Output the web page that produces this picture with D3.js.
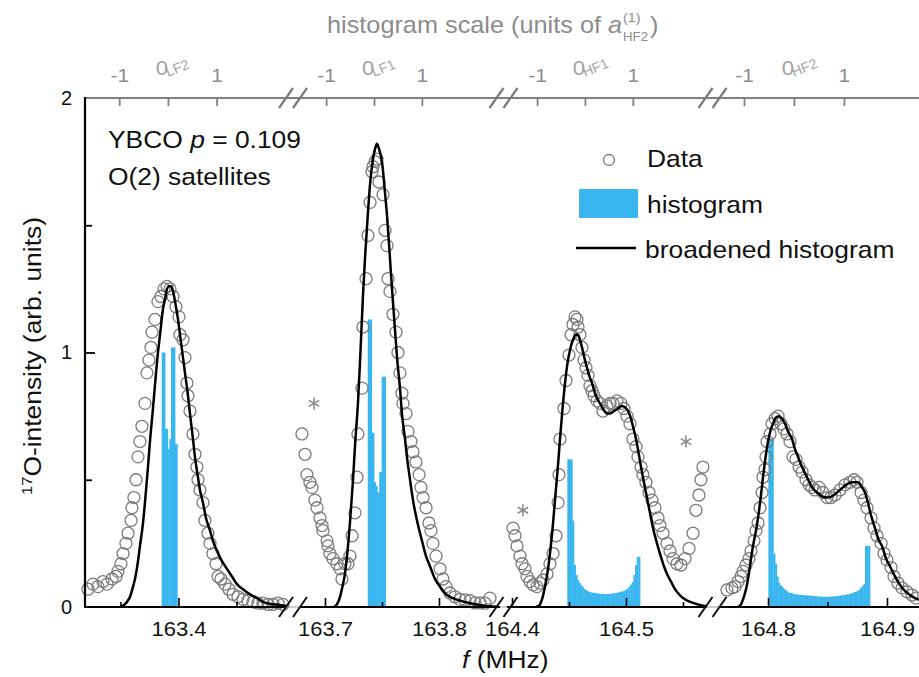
<!DOCTYPE html>
<html><head><meta charset="utf-8">
<script src="https://cdn.jsdelivr.net/npm/d3@7"></script>
<style>
body{margin:0;background:#fff}
svg{display:block}
text{font-family:"Liberation Sans",Arial,Helvetica,sans-serif}
</style></head>
<body><svg id="c" width="919" height="677"></svg>
<script>
// ---------------- DATA (frequency in MHz, intensity in arb. units) ----------------
const dataLF2 = [[163.3220,0.07],[163.3263,0.09],[163.3306,0.08],[163.3349,0.10],[163.3384,0.09],[163.3427,0.11],[163.3461,0.12],[163.3478,0.14],[163.3504,0.17],[163.3522,0.21],[163.3547,0.25],[163.3565,0.29],[163.3591,0.34],[163.3599,0.39],[163.3616,0.43],[163.3634,0.50],[163.3651,0.59],[163.3668,0.65],[163.3685,0.71],[163.3711,0.80],[163.3728,0.92],[163.3746,0.97],[163.3763,1.02],[163.3772,1.08],[163.3797,1.13],[163.3823,1.20],[163.3849,1.22],[163.3875,1.25],[163.3901,1.26],[163.3927,1.25],[163.3953,1.22],[163.3978,1.18],[163.4004,1.14],[163.4013,1.07],[163.4039,1.05],[163.4056,0.98],[163.4073,0.88],[163.4082,0.83],[163.4099,0.77],[163.4125,0.68],[163.4142,0.60],[163.4159,0.55],[163.4168,0.50],[163.4185,0.46],[163.4211,0.41],[163.4228,0.34],[163.4254,0.29],[163.4272,0.25],[163.4297,0.21],[163.4323,0.17],[163.4341,0.12],[163.4366,0.11],[163.4401,0.09],[163.4435,0.07],[163.4470,0.05],[163.4513,0.04],[163.4556,0.03],[163.4599,0.025],[163.4642,0.02],[163.4685,0.015],[163.4728,0.015],[163.4772,0.01],[163.4815,0.01],[163.4858,0.015],[163.4901,0.01]];
const curveLF2 = [[163.3504,0],[163.3522,0.005],[163.3556,0.02],[163.3582,0.04],[163.3608,0.08],[163.3625,0.11],[163.3651,0.18],[163.3668,0.24],[163.3694,0.33],[163.3711,0.41],[163.3737,0.55],[163.3754,0.65],[163.3780,0.78],[163.3797,0.87],[163.3823,1.00],[163.3841,1.07],[163.3866,1.17],[163.3884,1.21],[163.3901,1.25],[163.3918,1.26],[163.3935,1.26],[163.3953,1.24],[163.3978,1.18],[163.3996,1.13],[163.4013,1.07],[163.4039,0.98],[163.4056,0.92],[163.4082,0.83],[163.4099,0.76],[163.4125,0.66],[163.4142,0.59],[163.4168,0.51],[163.4185,0.46],[163.4211,0.41],[163.4237,0.35],[163.4272,0.30],[163.4297,0.26],[163.4332,0.22],[163.4375,0.18],[163.4418,0.15],[163.4461,0.12],[163.4504,0.09],[163.4556,0.07],[163.4616,0.05],[163.4677,0.035],[163.4728,0.02],[163.4789,0.012],[163.4875,0.008],[163.4935,0.004]];
const histLF2Edges = [163.3855,163.3884,163.3907,163.3921,163.3935,163.3970,163.3990];
const histLF2Heights = [1.00,0.70,0.62,0.66,1.02,0.64];

const dataLF1 = [[163.6798,0.68],[163.6825,0.60],[163.6842,0.52],[163.6868,0.49],[163.6886,0.47],[163.6912,0.42],[163.6930,0.39],[163.6956,0.35],[163.6974,0.32],[163.6982,0.30],[163.7018,0.26],[163.7026,0.24],[163.7044,0.21],[163.7070,0.19],[163.7105,0.17],[163.7132,0.15],[163.7149,0.11],[163.7175,0.17],[163.7202,0.17],[163.7219,0.20],[163.7237,0.28],[163.7263,0.37],[163.7281,0.51],[163.7289,0.68],[163.7325,0.86],[163.7333,1.10],[163.7360,1.29],[163.7377,1.46],[163.7395,1.59],[163.7412,1.71],[163.7421,1.73],[163.7439,1.75],[163.7456,1.76],[163.7474,1.67],[163.7509,1.62],[163.7526,1.48],[163.7544,1.42],[163.7553,1.29],[163.7570,1.24],[163.7596,1.15],[163.7623,1.08],[163.7640,1.00],[163.7658,0.92],[163.7675,0.84],[163.7684,0.80],[163.7711,0.76],[163.7728,0.69],[163.7754,0.65],[163.7772,0.61],[163.7798,0.57],[163.7825,0.52],[163.7842,0.47],[163.7860,0.43],[163.7886,0.39],[163.7912,0.33],[163.7930,0.30],[163.7947,0.25],[163.7974,0.20],[163.8009,0.15],[163.8035,0.11],[163.8061,0.08],[163.8096,0.055],[163.8140,0.04],[163.8184,0.03],[163.8228,0.028],[163.8272,0.025],[163.8316,0.016],[163.8360,0.016],[163.8404,0.015],[163.8447,0.035]];
const curveLF1 = [[163.7079,0],[163.7105,0.01],[163.7132,0.04],[163.7158,0.09],[163.7175,0.13],[163.7202,0.24],[163.7219,0.33],[163.7246,0.50],[163.7263,0.63],[163.7289,0.80],[163.7307,0.96],[163.7333,1.22],[163.7351,1.37],[163.7377,1.55],[163.7395,1.66],[163.7421,1.76],[163.7439,1.80],[163.7456,1.82],[163.7474,1.80],[163.7500,1.75],[163.7526,1.63],[163.7544,1.54],[163.7570,1.37],[163.7588,1.25],[163.7614,1.09],[163.7632,0.98],[163.7658,0.86],[163.7675,0.76],[163.7702,0.66],[163.7719,0.59],[163.7746,0.50],[163.7772,0.42],[163.7807,0.34],[163.7851,0.26],[163.7886,0.20],[163.7921,0.16],[163.7965,0.11],[163.8009,0.08],[163.8061,0.05],[163.8123,0.035],[163.8184,0.025],[163.8272,0.015],[163.8360,0.008],[163.8447,0.003],[163.8509,0.001]];
const histLF1Edges = [163.7375,163.7410,163.7430,163.7445,163.7459,163.7476,163.7497,163.7532];
const histLF1Heights = [1.13,0.685,0.49,0.475,0.45,0.53,0.905];

const dataHF1 = [[164.4009,0.31],[164.4026,0.28],[164.4044,0.24],[164.4070,0.20],[164.4088,0.17],[164.4114,0.15],[164.4132,0.12],[164.4158,0.10],[164.4184,0.087],[164.4219,0.08],[164.4246,0.094],[164.4272,0.106],[164.4307,0.13],[164.4333,0.17],[164.4360,0.21],[164.4386,0.28],[164.4404,0.41],[164.4412,0.52],[164.4421,0.66],[164.4456,0.78],[164.4474,0.89],[164.4500,0.99],[164.4518,1.07],[164.4535,1.11],[164.4553,1.14],[164.4570,1.13],[164.4579,1.10],[164.4596,1.07],[164.4614,1.02],[164.4632,0.97],[164.4649,0.94],[164.4667,0.91],[164.4684,0.87],[164.4702,0.85],[164.4719,0.83],[164.4746,0.81],[164.4772,0.80],[164.4798,0.77],[164.4833,0.79],[164.4860,0.80],[164.4886,0.80],[164.4921,0.81],[164.4956,0.80],[164.4982,0.78],[164.5009,0.75],[164.5035,0.72],[164.5061,0.66],[164.5088,0.63],[164.5105,0.59],[164.5132,0.55],[164.5149,0.52],[164.5175,0.49],[164.5202,0.45],[164.5228,0.42],[164.5254,0.39],[164.5281,0.35],[164.5298,0.32],[164.5325,0.29],[164.5360,0.25],[164.5386,0.22],[164.5412,0.19],[164.5447,0.17],[164.5482,0.165],[164.5518,0.19],[164.5553,0.23],[164.5588,0.29],[164.5614,0.38],[164.5640,0.44],[164.5658,0.50],[164.5675,0.55]];
const curveHF1 = [[164.4211,0],[164.4246,0.01],[164.4263,0.03],[164.4289,0.08],[164.4316,0.15],[164.4333,0.21],[164.4360,0.33],[164.4377,0.42],[164.4404,0.56],[164.4421,0.66],[164.4447,0.80],[164.4465,0.88],[164.4491,0.97],[164.4509,1.01],[164.4535,1.05],[164.4561,1.07],[164.4579,1.07],[164.4596,1.05],[164.4614,1.02],[164.4640,0.97],[164.4658,0.94],[164.4684,0.90],[164.4702,0.88],[164.4728,0.84],[164.4746,0.82],[164.4772,0.80],[164.4798,0.78],[164.4833,0.76],[164.4860,0.76],[164.4895,0.77],[164.4930,0.78],[164.4965,0.79],[164.4991,0.785],[164.5018,0.77],[164.5044,0.74],[164.5061,0.71],[164.5088,0.66],[164.5105,0.62],[164.5132,0.55],[164.5149,0.51],[164.5175,0.45],[164.5193,0.41],[164.5219,0.35],[164.5237,0.31],[164.5272,0.25],[164.5298,0.21],[164.5333,0.16],[164.5360,0.13],[164.5395,0.10],[164.5430,0.07],[164.5465,0.05],[164.5500,0.035],[164.5544,0.024],[164.5588,0.016],[164.5649,0.008],[164.5711,0.002]];
const histHF1Start = 164.4485, histHF1BinWidth = 0.00145;
const histHF1Heights = [0.58,0.58,0.58,0.34,0.165,0.126,0.106,0.094,0.085,0.078,0.07,0.066,0.062,0.059,0.057,0.056,0.055,0.054,0.053,0.052,0.052,0.051,0.051,0.051,0.051,0.052,0.052,0.053,0.054,0.055,0.057,0.058,0.06,0.062,0.064,0.068,0.072,0.08,0.088,0.098,0.126,0.165,0.197,0.197];

const dataHF2 = [[164.7655,0.067],[164.7697,0.075],[164.7723,0.08],[164.7748,0.10],[164.7773,0.12],[164.7790,0.14],[164.7815,0.165],[164.7840,0.19],[164.7857,0.22],[164.7882,0.26],[164.7899,0.30],[164.7916,0.33],[164.7933,0.39],[164.7950,0.45],[164.7958,0.51],[164.7975,0.54],[164.7983,0.59],[164.7992,0.65],[164.8017,0.68],[164.8034,0.72],[164.8059,0.74],[164.8084,0.75],[164.8109,0.72],[164.8134,0.70],[164.8160,0.68],[164.8185,0.65],[164.8210,0.59],[164.8235,0.58],[164.8261,0.55],[164.8286,0.53],[164.8319,0.50],[164.8345,0.48],[164.8370,0.47],[164.8395,0.46],[164.8429,0.47],[164.8462,0.45],[164.8496,0.43],[164.8529,0.43],[164.8563,0.44],[164.8605,0.46],[164.8647,0.48],[164.8689,0.49],[164.8723,0.50],[164.8748,0.49],[164.8782,0.45],[164.8807,0.42],[164.8832,0.39],[164.8866,0.35],[164.8891,0.31],[164.8916,0.28],[164.8950,0.25],[164.8975,0.21],[164.9000,0.185],[164.9034,0.155],[164.9059,0.12],[164.9092,0.094],[164.9126,0.075],[164.9168,0.06],[164.9210,0.047],[164.9244,0.035]];
const curveHF2 = [[164.7748,0],[164.7773,0.01],[164.7790,0.03],[164.7815,0.07],[164.7832,0.11],[164.7857,0.19],[164.7874,0.24],[164.7899,0.30],[164.7916,0.35],[164.7941,0.44],[164.7958,0.51],[164.7983,0.60],[164.8000,0.65],[164.8025,0.70],[164.8042,0.72],[164.8067,0.745],[164.8092,0.75],[164.8118,0.74],[164.8143,0.72],[164.8168,0.69],[164.8202,0.66],[164.8227,0.62],[164.8252,0.59],[164.8286,0.55],[164.8328,0.51],[164.8370,0.47],[164.8412,0.45],[164.8454,0.435],[164.8496,0.43],[164.8538,0.435],[164.8580,0.45],[164.8630,0.47],[164.8672,0.485],[164.8714,0.49],[164.8756,0.49],[164.8790,0.47],[164.8815,0.45],[164.8840,0.41],[164.8866,0.36],[164.8899,0.31],[164.8933,0.26],[164.8958,0.24],[164.8992,0.19],[164.9025,0.16],[164.9067,0.12],[164.9109,0.087],[164.9151,0.063],[164.9193,0.047],[164.9235,0.035],[164.9269,0.028]];
const histHF2Start = 164.8003, histHF2BinWidth = 0.0014;
const histHF2Heights = [0.66,0.66,0.66,0.21,0.17,0.12,0.094,0.085,0.078,0.07,0.066,0.06,0.056,0.055,0.054,0.05,0.05,0.049,0.048,0.048,0.047,0.046,0.046,0.045,0.045,0.044,0.043,0.043,0.042,0.042,0.041,0.041,0.04,0.04,0.04,0.04,0.04,0.041,0.041,0.042,0.042,0.043,0.044,0.045,0.046,0.047,0.048,0.05,0.051,0.053,0.055,0.058,0.06,0.063,0.067,0.075,0.082,0.09,0.24,0.24,0.24];

// axis ticks / labels
const majorTicks = [[163.4],[163.7,163.8],[164.4,164.5],[164.8,164.9]];
const minorTicks = [[163.35,163.45],[163.75],[164.45,164.55],[164.85]];
const yTicks = [0,1,2];
const yMinorTicks = [0.5,1.5];
const histZero = [163.3909,163.7430,164.4640,164.8218];   // position of histogram-scale 0 (MHz)
const histUnit = 0.042;                                   // a_HF2^(1) in MHz
const histTicks = [-1,0,1];
const zeroSubs = ['LF2','LF1','HF1','HF2'];
const asterisks = [[1,163.6904,0.80],[2,164.4096,0.38],[2,164.5526,0.65]];

// ---------------- LAYOUT ----------------
const svg = d3.select('#c');
const BLUE = '#3ab6ef', GREY = '#7c7c7c', TGREY = '#8c8c8c';
const SX = 'scale(1.1,1)';
const FS = 24;
const yS = d3.scaleLinear().domain([0,2]).range([607,98]);
const domains = [[163.3194,163.4927],[163.6781,163.8535],[164.3956,164.5702],[164.7588,164.9269]];
const ranges  = [[85,286],[300,500],[507,706],[719,919]];
const breaks = [293,503.5,712.5];

function mkBins(edges, heights){ return heights.map((h,i)=>({x0:edges[i],x1:edges[i+1],h})); }
function mkUniform(start,w,heights){ return heights.map((h,i)=>({x0:start+i*w,x1:start+(i+1)*w,h})); }
const panels = [
  {data:dataLF2, curve:curveLF2, bins:mkBins(histLF2Edges,histLF2Heights)},
  {data:dataLF1, curve:curveLF1, bins:mkBins(histLF1Edges,histLF1Heights)},
  {data:dataHF1, curve:curveHF1, bins:mkUniform(histHF1Start,histHF1BinWidth,histHF1Heights)},
  {data:dataHF2, curve:curveHF2, bins:mkUniform(histHF2Start,histHF2BinWidth,histHF2Heights)}
];

function txt(g,x,y,str,size,anchor,fill){
  return g.append('text').attr('transform',`translate(${x},${y}) ${SX}`)
    .attr('font-size',size).attr('text-anchor',anchor||'start').attr('fill',fill||'#111').text(str);
}

// base axis lines
svg.append('line').attr('x1',85).attr('x2',919).attr('y1',98).attr('y2',98).attr('stroke','#808080').attr('stroke-width',2.2);
svg.append('line').attr('x1',85).attr('x2',919).attr('y1',607).attr('y2',607).attr('stroke','#999').attr('stroke-width',1);

const xScales = [];
panels.forEach((p,i)=>{
  const x = d3.scaleLinear().domain(domains[i]).range(ranges[i]);
  xScales.push(x);
  const g = svg.append('g');
  // histogram
  g.selectAll('rect').data(p.bins).join('rect')
    .attr('x',d=>x(d.x0)).attr('width',d=>Math.max(0,x(d.x1)-x(d.x0))+0.4)
    .attr('y',d=>yS(d.h)).attr('height',d=>yS(0)-yS(d.h)).attr('fill',BLUE);
  // data
  g.selectAll('circle').data(p.data).join('circle')
    .attr('cx',d=>x(d[0])).attr('cy',d=>yS(d[1])).attr('r',6)
    .attr('fill','none').attr('stroke',GREY).attr('stroke-width',1.3);
  // broadened curve
  g.append('path').datum(p.curve)
    .attr('d',d3.line().x(d=>x(d[0])).y(d=>yS(d[1])).curve(d3.curveMonotoneX))
    .attr('fill','none').attr('stroke','#000').attr('stroke-width',2.5);

  // bottom axis black segment
  svg.append('line').attr('x1',ranges[i][0]).attr('x2',ranges[i][1]).attr('y1',607).attr('y2',607)
    .attr('stroke','#000').attr('stroke-width',2);
  const ax = svg.append('g').attr('transform','translate(0,607)')
    .call(d3.axisBottom(x).tickValues(majorTicks[i]).tickSizeInner(-9).tickSizeOuter(0).tickPadding(15).tickFormat(d3.format('.1f')));
  ax.select('.domain').remove();
  ax.selectAll('line').attr('stroke','#000').attr('stroke-width',1.6);
  ax.selectAll('text').attr('font-size',20).attr('fill','#111').attr('font-family',null).attr('transform',SX);
  const axm = svg.append('g').attr('transform','translate(0,607)')
    .call(d3.axisBottom(x).tickValues(minorTicks[i]).tickSizeInner(-5).tickSizeOuter(0).tickFormat(''));
  axm.select('.domain').remove();
  axm.selectAll('line').attr('stroke','#000').attr('stroke-width',1.6);

  // top histogram-scale axis
  const ts = d3.scaleLinear().domain([-1,1]).range([x(histZero[i]-histUnit), x(histZero[i]+histUnit)]);
  const at = svg.append('g').attr('transform','translate(0,98)')
    .call(d3.axisTop(ts).tickValues(histTicks).tickSizeInner(-8).tickSizeOuter(0).tickPadding(16)
      .tickFormat(d=>d===0?'':d3.format('d')(d).replace('−','-')));
  at.select('.domain').remove();
  at.selectAll('line').attr('stroke','#808080').attr('stroke-width',1.8);
  at.selectAll('text').attr('font-size',19).attr('fill',TGREY).attr('font-family',null).attr('transform',SX);
  const z = ts(0);
  txt(svg, z-6, 75, '0', 20, 'middle', '#a3a3a3');
  svg.append('text').attr('transform',`translate(${z},77) rotate(-22)`)
    .attr('font-size',14).attr('fill','#a3a3a3').text(zeroSubs[i]);
});

// asterisks
asterisks.forEach(([pi,f,v])=>{
  const cx = xScales[pi](f), cy = yS(v);
  [90,30,150].forEach(a=>{
    const r = 6, dx = r*Math.cos(a*Math.PI/180), dy = r*Math.sin(a*Math.PI/180);
    svg.append('line').attr('x1',cx-dx).attr('y1',cy-dy).attr('x2',cx+dx).attr('y2',cy+dy)
      .attr('stroke','#8a8a8a').attr('stroke-width',1.6);
  });
});

// axis breaks
breaks.forEach(b=>{
  [-7,7].forEach(o=>{
    const c = b+o;
    svg.append('line').attr('x1',c-7).attr('y1',108).attr('x2',c+7).attr('y2',88).attr('stroke','#7a7a7a').attr('stroke-width',2.2);
    svg.append('line').attr('x1',c-7).attr('y1',617).attr('x2',c+7).attr('y2',597).attr('stroke','#111').attr('stroke-width',2);
  });
});

// y axis
svg.append('line').attr('x1',85).attr('x2',85).attr('y1',97).attr('y2',608).attr('stroke','#000').attr('stroke-width',2.2);
const ay = svg.append('g').attr('transform','translate(85,0)')
  .call(d3.axisLeft(yS).tickValues(yTicks).tickSizeInner(-10).tickSizeOuter(0).tickPadding(13).tickFormat(d3.format('d')));
ay.select('.domain').remove();
ay.selectAll('line').attr('stroke','#000').attr('stroke-width',1.8).filter(d=>d!==1).remove();
ay.selectAll('text').attr('font-size',20).attr('fill','#111').attr('font-family',null);
const aym = svg.append('g').attr('transform','translate(85,0)')
  .call(d3.axisLeft(yS).tickValues(yMinorTicks).tickSizeInner(-7).tickSizeOuter(0).tickFormat(''));
aym.select('.domain').remove();
aym.selectAll('line').attr('stroke','#000').attr('stroke-width',1.8);

// y label
const yl = svg.append('text').attr('transform','translate(41,356) rotate(-90) scale(1.1,1)')
  .attr('text-anchor','middle').attr('font-size',FS).attr('fill','#111');
yl.append('tspan').attr('font-size',15).attr('dy',-9).text('17');
yl.append('tspan').attr('dy',9).text('O-intensity (arb. units)');

// x label
const xl = svg.append('text').attr('transform','translate(462,668) '+SX).attr('font-size',FS).attr('fill','#111');
xl.append('tspan').attr('font-style','italic').text('f');
xl.append('tspan').text(' (MHz)');

// top title
const tt = svg.append('text').attr('transform','translate(327,33) '+SX).attr('font-size',23).attr('fill',TGREY);
tt.append('tspan').text('histogram scale (units of ');
tt.append('tspan').attr('font-style','italic').text('a');
const tw = tt.node().getComputedTextLength()*1.1;
txt(svg, 327+tw+1, 22, '(1)', 13, 'start', TGREY);
txt(svg, 327+tw+1, 41, 'HF2', 12, 'start', TGREY);
txt(svg, 327+tw+28, 33, ')', 23, 'start', TGREY);

// annotation
const an = svg.append('text').attr('transform','translate(108,148) '+SX).attr('font-size',FS).attr('fill','#111');
an.append('tspan').text('YBCO ');
an.append('tspan').attr('font-style','italic').text('p');
an.append('tspan').text(' = 0.109');
txt(svg,108,185,'O(2) satellites',FS);

// legend
svg.append('circle').attr('cx',609).attr('cy',160).attr('r',5.5).attr('fill','none').attr('stroke',GREY).attr('stroke-width',1.3);
txt(svg,647,167,'Data',FS);
svg.append('rect').attr('x',579).attr('y',189).attr('width',59).attr('height',29).attr('fill',BLUE);
txt(svg,647,213,'histogram',FS);
svg.append('line').attr('x1',576).attr('x2',636).attr('y1',248).attr('y2',248).attr('stroke','#000').attr('stroke-width',2.5);
txt(svg,645,258,'broadened histogram',FS);
</script></body></html>
